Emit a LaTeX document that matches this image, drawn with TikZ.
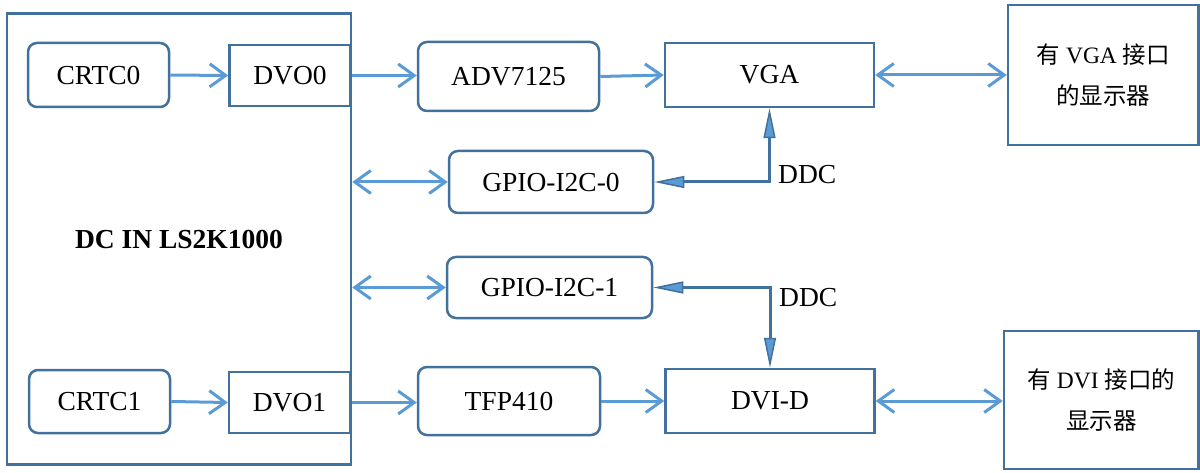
\documentclass[tikz,border=0pt]{standalone}
\usepackage{fontspec}
\setmainfont{Liberation Serif}
\newfontfamily\cjk{Noto Sans CJK SC}
\usetikzlibrary{arrows.meta}
\definecolor{boxc}{HTML}{41719C}
\definecolor{arrc}{HTML}{5B9BD5}
\begin{document}
\begin{tikzpicture}[x=1pt,y=-1pt,
  box/.style={draw=boxc, line width=2.5pt, inner sep=0pt, align=center,
    font=\fontsize{27.5}{30}\selectfont},
  rbox/.style={box, rounded corners=9pt},
  mon/.style={box, font=\fontsize{23.5}{41}\selectfont},
  barb/.tip={Straight Barb[length=16pt,width=23pt,line width=3pt]},
  flow/.style={draw=arrc, line width=3pt, -barb},
  both/.style={draw=arrc, line width=3pt, barb-barb},
  tri/.tip={Triangle[fill=arrc,length=30pt,width=12pt,line width=1.5pt]},
  ddc/.style={draw=boxc, line width=3pt, tri-tri},
  lbl/.style={font=\fontsize{27.5}{30}\selectfont, inner sep=0pt}
]
\useasboundingbox (0,0) rectangle (1200,473);

% main chip box
\node[box, minimum width=344pt, minimum height=451pt,
      font=\bfseries\fontsize{27.5}{30}\selectfont] (dc) at (179,239) {DC IN LS2K1000};

\node[rbox, minimum width=141pt, minimum height=64pt] (crtc0) at (98.5,75) {CRTC0};
\node[box, minimum width=121pt, minimum height=61pt] (dvo0) at (290,75.5) {DVO0};
\node[rbox, minimum width=141pt, minimum height=63pt] (crtc1) at (99.5,401.5) {CRTC1};
\node[box, minimum width=121pt, minimum height=61pt] (dvo1) at (289.5,402.5) {DVO1};

\node[rbox, minimum width=181pt, minimum height=69pt] (adv) at (508.5,76.5) {ADV7125};
\node[rbox, minimum width=182pt, minimum height=68pt] (tfp) at (509,401) {TFP410};
\node[rbox, minimum width=204pt, minimum height=62pt] (gpio0) at (551,182) {GPIO-I2C-0};
\node[rbox, minimum width=205pt, minimum height=61pt] (gpio1) at (549.5,287.5) {GPIO-I2C-1};

\node[box, minimum width=209pt, minimum height=64pt] (vga) at (769.5,75) {VGA};
\node[box, minimum width=209pt, minimum height=64pt] (dvi) at (770,401) {DVI-D};

\node[mon, minimum width=190.5pt, minimum height=140pt] (mon0) at (1103.25,75)
  {{\cjk 有} VGA {\cjk 接口}\\{\cjk 的显示器}};
\node[mon, minimum width=194.5pt, minimum height=138pt] (mon1) at (1101.25,400)
  {{\cjk 有} DVI {\cjk 接口的}\\{\cjk 显示器}};

% data paths
\draw[flow] (crtc0.east) -- (dvo0.west);
\draw[flow] (dc.east |- dvo0) -- (adv.west |- dvo0);
\draw[flow] (adv.east) -- (vga.west);
\draw[both] (vga.east) -- (mon0.west |- vga.east);
\draw[flow] (crtc1.east) -- (dvo1.west);
\draw[flow] (dc.east |- dvo1) -- (tfp.west |- dvo1);
\draw[flow] (tfp.east) -- (dvi.west);
\draw[both] (dvi.east) -- (mon1.west |- dvi.east);
\draw[both] (dc.east |- gpio0) -- (gpio0.west);
\draw[both] (dc.east |- gpio1) -- (gpio1.west);

% DDC
\draw[ddc] (gpio0.east) -| (vga.south);
\draw[ddc] (gpio1.east) -| (dvi.north);
\node[lbl, anchor=west] (ddc0) at (778,175) {DDC};
\node[lbl, anchor=west] (ddc1) at (779,298) {DDC};
\end{tikzpicture}
\end{document}
